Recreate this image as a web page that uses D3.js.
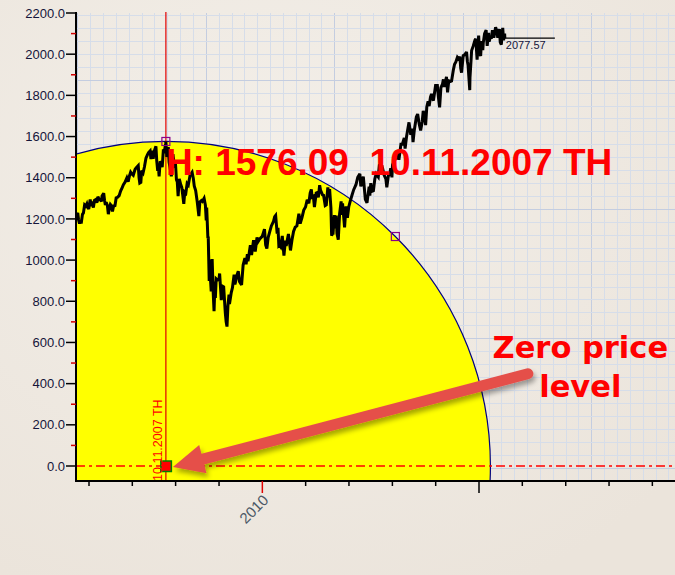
<!DOCTYPE html>
<html><head><meta charset="utf-8">
<script src="https://cdn.jsdelivr.net/npm/d3@7"></script>
<style>
html,body{margin:0;padding:0;background:#efe9e1;}
svg{display:block;}
</style></head>
<body>
<script>
// ---- data ----
const seriesName = "SPX";
const spx = [
["2005-09-20",1221],["2005-09-28",1229],["2005-10-05",1196],["2005-10-13",1177],["2005-10-19",1195],["2005-10-27",1178],
["2005-11-07",1222],["2005-11-15",1229],["2005-11-25",1268],["2005-12-05",1262],["2005-12-14",1273],["2005-12-20",1260],["2005-12-30",1248],
["2006-01-11",1294],["2006-01-20",1262],["2006-01-27",1284],["2006-02-07",1255],["2006-02-16",1290],["2006-02-27",1294],
["2006-03-08",1278],["2006-03-17",1308],["2006-03-28",1293],["2006-04-07",1295],["2006-04-17",1285],["2006-04-21",1311],
["2006-05-05",1325],["2006-05-12",1291],["2006-05-19",1267],["2006-05-26",1281],["2006-06-05",1265],["2006-06-13",1223],
["2006-06-21",1252],["2006-06-30",1270],["2006-07-07",1265],["2006-07-18",1236],["2006-07-27",1263],["2006-08-08",1265],
["2006-08-18",1302],["2006-08-30",1305],["2006-09-12",1313],["2006-09-25",1336],["2006-10-06",1350],["2006-10-18",1366],
["2006-10-31",1378],["2006-11-16",1399],["2006-11-27",1381],["2006-12-08",1409],["2006-12-18",1427],["2006-12-29",1418],
["2007-01-09",1412],["2007-01-24",1440],["2007-02-02",1448],["2007-02-20",1459],["2007-02-27",1399],["2007-03-05",1374],
["2007-03-14",1377],["2007-03-21",1435],["2007-04-02",1424],["2007-04-13",1452],["2007-04-26",1495],["2007-05-09",1512],
["2007-05-18",1522],["2007-05-31",1530],["2007-06-07",1491],["2007-06-15",1532],["2007-06-26",1492],["2007-07-06",1530],
["2007-07-19",1553],["2007-07-26",1482],["2007-08-03",1433],["2007-08-09",1453],["2007-08-15",1406],["2007-08-24",1479],
["2007-08-31",1473],["2007-09-10",1451],["2007-09-19",1529],["2007-09-28",1527],["2007-10-09",1565],["2007-10-11",1576.09],
["2007-10-19",1501],["2007-10-31",1549],["2007-11-07",1475],["2007-11-15",1451],["2007-11-26",1407],["2007-12-10",1515],
["2007-12-20",1460],["2007-12-31",1468],["2008-01-08",1390],["2008-01-15",1380],["2008-01-22",1310],["2008-02-01",1395],
["2008-02-13",1367],["2008-02-22",1353],["2008-03-10",1273],["2008-03-18",1330],["2008-03-27",1325],["2008-04-07",1372],
["2008-04-17",1365],["2008-05-02",1413],["2008-05-19",1427],["2008-05-29",1398],["2008-06-06",1360],["2008-06-18",1338],
["2008-07-01",1284],["2008-07-15",1214],["2008-07-23",1282],["2008-08-06",1289],["2008-08-13",1285],["2008-08-28",1300],
["2008-09-08",1267],["2008-09-15",1193],["2008-09-19",1255],["2008-09-29",1106],["2008-10-02",1114],["2008-10-10",899],
["2008-10-13",1003],["2008-10-22",896],["2008-10-27",848],["2008-11-04",1005],["2008-11-12",852],["2008-11-20",752],
["2008-11-28",896],["2008-12-01",816],["2008-12-08",909],["2008-12-17",904],["2008-12-31",903],["2009-01-06",935],
["2009-01-20",805],["2009-01-28",874],["2009-02-09",870],["2009-02-23",743],["2009-03-02",700],["2009-03-09",677],
["2009-03-17",778],["2009-03-26",832],["2009-03-30",787],["2009-04-14",842],["2009-04-24",866],["2009-05-08",929],
["2009-05-15",882],["2009-06-03",931],["2009-06-12",946],["2009-06-23",895],["2009-07-10",879],["2009-07-23",976],
["2009-08-07",1010],["2009-08-17",980],["2009-08-28",1029],["2009-09-02",994],["2009-09-22",1072],["2009-10-02",1025],
["2009-10-19",1097],["2009-11-02",1042],["2009-11-17",1110],["2009-11-27",1091],["2009-12-10",1103],["2009-12-31",1115],
["2010-01-19",1150],["2010-01-29",1074],["2010-02-08",1056],["2010-02-19",1109],["2010-03-05",1139],["2010-03-18",1166],
["2010-04-05",1188],["2010-04-15",1211],["2010-04-23",1217],["2010-05-06",1128],["2010-05-13",1157],["2010-05-20",1071],
["2010-05-25",1074],["2010-06-04",1065],["2010-06-18",1117],["2010-07-02",1022],["2010-07-14",1095],["2010-07-21",1069],
["2010-08-09",1127],["2010-08-26",1047],["2010-09-08",1099],["2010-09-21",1139],["2010-10-05",1160],["2010-10-19",1166],
["2010-11-05",1225],["2010-11-16",1178],["2010-12-01",1206],["2010-12-16",1243],["2010-12-31",1258],["2011-01-14",1293],
["2011-01-28",1276],["2011-02-08",1325],["2011-02-18",1343],["2011-02-24",1306],["2011-03-07",1310],["2011-03-16",1257],
["2011-03-31",1326],["2011-04-08",1328],["2011-04-18",1305],["2011-04-29",1364],["2011-05-06",1340],["2011-05-23",1317],
["2011-06-01",1315],["2011-06-15",1265],["2011-06-24",1268],["2011-07-07",1353],["2011-07-18",1305],["2011-07-22",1345],
["2011-08-02",1254],["2011-08-08",1119],["2011-08-10",1121],["2011-08-15",1204],["2011-08-19",1124],["2011-08-31",1219],
["2011-09-09",1154],["2011-09-16",1216],["2011-09-22",1129],["2011-10-03",1099],["2011-10-14",1224],["2011-10-27",1285],
["2011-11-01",1219],["2011-11-08",1276],["2011-11-25",1159],["2011-12-07",1261],["2011-12-19",1205],["2011-12-30",1258],
["2012-01-13",1289],["2012-01-27",1316],["2012-02-10",1342],["2012-02-29",1366],["2012-03-15",1402],["2012-04-02",1419],
["2012-04-10",1358],["2012-04-20",1378],["2012-05-01",1405],["2012-05-18",1295],["2012-06-01",1278],["2012-06-19",1357],
["2012-06-25",1313],["2012-07-03",1374],["2012-07-12",1334],["2012-07-25",1337],["2012-08-06",1394],["2012-08-17",1418],
["2012-09-04",1404],["2012-09-14",1465],["2012-09-26",1434],["2012-10-05",1460],["2012-10-23",1413],["2012-11-07",1395],
["2012-11-15",1353],["2012-11-28",1409],["2012-12-10",1418],["2012-12-18",1446],["2012-12-28",1402],["2013-01-02",1462],
["2013-01-18",1485],["2013-02-04",1495],["2013-02-19",1530],["2013-02-25",1487],["2013-03-14",1563],["2013-03-26",1563],
["2013-04-11",1593],["2013-04-18",1541],["2013-04-30",1598],["2013-05-10",1633],["2013-05-21",1669],["2013-06-05",1608],
["2013-06-17",1639],["2013-06-24",1573],["2013-07-05",1632],["2013-07-22",1695],["2013-08-02",1709],["2013-08-15",1661],
["2013-08-27",1630],["2013-09-09",1671],["2013-09-18",1725],["2013-10-01",1695],["2013-10-08",1655],["2013-10-18",1744],
["2013-10-29",1771],["2013-11-07",1748],["2013-11-18",1791],["2013-11-27",1807],["2013-12-05",1785],["2013-12-13",1775],
["2013-12-31",1848],["2014-01-15",1848],["2014-01-24",1790],["2014-02-03",1742],["2014-02-14",1838],["2014-02-27",1854],
["2014-03-07",1878],["2014-03-14",1841],["2014-04-02",1890],["2014-04-11",1815],["2014-04-21",1871],["2014-05-07",1868],
["2014-05-15",1870],["2014-05-30",1924],["2014-06-09",1951],["2014-06-20",1962],["2014-07-03",1985],["2014-07-14",1977],
["2014-07-24",1988],["2014-07-31",1931],["2014-08-07",1910],["2014-08-21",1993],["2014-09-04",1998],["2014-09-18",2011],
["2014-09-25",1966],["2014-10-01",1946],["2014-10-15",1825],["2014-10-17",1886],["2014-10-31",2018],["2014-11-13",2039],
["2014-11-28",2068],["2014-12-05",2075],["2014-12-16",1973],["2014-12-29",2090],["2015-01-06",2002],["2015-01-15",1992],
["2015-01-22",2063],["2015-02-02",2020],["2015-02-06",2055],["2015-02-17",2100],["2015-03-02",2117],["2015-03-11",2040],
["2015-03-23",2104],["2015-03-27",2061],["2015-04-06",2080],["2015-04-17",2081],["2015-04-24",2117],["2015-05-06",2080],
["2015-05-21",2131],["2015-06-01",2111],["2015-06-08",2080],["2015-06-22",2122],["2015-06-29",2058],["2015-07-08",2046],
["2015-07-20",2128],["2015-07-27",2068],["2015-08-05",2100],["2015-08-07",2077.57]
];
const yTickValues = [0,200,400,600,800,1000,1200,1400,1600,1800,2000,2200];
const yMinorValues = [100,300,500,700,900,1100,1300,1500,1700,1900,2100];
const xTickYears = [2006,2007,2008,2009,2010,2011,2012,2013,2014,2015,2016,2017,2018,2019];
const xTickLabels = {2010:"2010"};
const peak = {date:"2007-10-11", value:1576.09};
const peakLabel = "H: 1576.09  10.11.2007 TH";
const peakDateLabel = "10.11.2007 TH";
const lastLabel = "2077.57";
const noteLines = ["Zero price", "level"];
const noteAnchor = {date:"2017-05-04", value:525};
const arrowTail = {date:"2016-02-17", value:448};

// ---- layout ----
const W = 675, H = 575;
const plotLeft = 76, plotTop = 13, plotBottom = 481, plotRight = 675;
const parse = d3.timeParse("%Y-%m-%d");
const data = spx.map(d => ({date: parse(d[0]), value: d[1]}));

const x = d3.scaleTime().domain([new Date(2006,0,1), new Date(2015,0,1)]).range([89, 479]);
const y = d3.scaleLinear().domain([0, 2200]).range([466, 13]);

const svg = d3.select("body").append("svg").attr("width", W).attr("height", H);
const defs = svg.append("defs");

// paper background
const rg = defs.append("radialGradient").attr("id","paper").attr("cx","40%").attr("cy","30%").attr("r","80%");
rg.append("stop").attr("offset","0%").attr("stop-color","#f3efe9");
rg.append("stop").attr("offset","100%").attr("stop-color","#ebe4db");
svg.append("rect").attr("width",W).attr("height",H).attr("fill","url(#paper)");

defs.append("clipPath").attr("id","plotclip").append("rect")
  .attr("x",plotLeft).attr("y",plotTop).attr("width",plotRight-plotLeft).attr("height",plotBottom-plotTop);

// grid (crisp 1px)
const gGrid = svg.append("g");
const gx = d3.range(77.3, plotRight, 12.85).map(v => Math.round(v) + 0.5);
const gy = d3.range(15, plotBottom, 12.93).map(v => Math.round(v) + 0.5);
gGrid.selectAll("line.v").data(gx).join("line")
  .attr("x1",d=>d).attr("x2",d=>d).attr("y1",plotTop).attr("y2",plotBottom)
  .attr("stroke",(d,i)=> i%10===0 ? "#c4cde0" : "#d6dde9").attr("stroke-width",1);
gGrid.selectAll("line.h").data(gy).join("line")
  .attr("y1",d=>d).attr("y2",d=>d).attr("x1",plotLeft).attr("x2",plotRight)
  .attr("stroke",(d,i)=> i%10===5 ? "#c4cde0" : "#d6dde9").attr("stroke-width",1);

// circle (zero price arc)
const px = x(parse(peak.date)), py = y(peak.value), zy = y(0);
const R = zy - py;
svg.append("g").attr("clip-path","url(#plotclip)")
  .append("circle").attr("cx",px).attr("cy",zy).attr("r",R)
  .attr("fill","#ffff00").attr("stroke","#000080").attr("stroke-width",1.2);

// zero level dash-dot
svg.append("line").attr("x1",plotLeft).attr("x2",plotRight).attr("y1",zy).attr("y2",zy)
  .attr("stroke","#ff0000").attr("stroke-width",1.6).attr("stroke-dasharray","9,4,3,4");

// vertical peak line
svg.append("line").attr("x1",px).attr("x2",px).attr("y1",plotTop-1).attr("y2",plotBottom)
  .attr("stroke","#e00000").attr("stroke-width",1.2);

// price line
const line = d3.line().x(d=>x(d.date)).y(d=>y(d.value));
svg.append("path").datum(data).attr("d",line).attr("fill","none")
  .attr("stroke","#000").attr("stroke-width",3).attr("stroke-linejoin","miter").attr("stroke-miterlimit",3)
  .attr("clip-path","url(#plotclip)");

// last value marker
const last = data[data.length-1];
const lx = x(last.date), ly = y(last.value);
svg.append("line").attr("x1",lx).attr("x2",lx+50).attr("y1",ly).attr("y2",ly).attr("stroke","#000").attr("stroke-width",1.2);
svg.append("text").attr("x",lx+1).attr("y",ly+10.5).attr("font-family","Liberation Sans, Arial, sans-serif")
  .attr("font-size",11).attr("fill","#14143a").text(lastLabel);

// small purple squares on the arc
const a45 = Math.PI/4;
const sqPts = [[px, py], [px + R*Math.cos(a45), zy - R*Math.sin(a45)]];
svg.selectAll("rect.sq").data(sqPts).join("rect")
  .attr("x",d=>d[0]-4).attr("y",d=>d[1]-4).attr("width",8).attr("height",8)
  .attr("fill","none").attr("stroke","#8a008a").attr("stroke-width",1.2);

// zero point marker
svg.append("rect").attr("x",px-5).attr("y",zy-5).attr("width",10.5).attr("height",10.5)
  .attr("fill","#ff0000").attr("stroke","#008000").attr("stroke-width",1.5);

// vertical date label
svg.append("text").attr("transform",`translate(${px-4},${plotBottom}) rotate(-90)`)
  .attr("font-family","Liberation Sans, Arial, sans-serif").attr("font-size",12.5).attr("fill","#ff0000")
  .text(peakDateLabel);

// big peak label
svg.append("text").attr("x",px).attr("y",py+34).style("white-space","pre")
  .attr("font-family","Liberation Sans, Arial, sans-serif").attr("font-weight","bold").attr("font-size",37)
  .attr("fill","#ff0000").text(peakLabel);

// arrow
const flt = defs.append("filter").attr("id","shadow").attr("x","-20%").attr("y","-20%").attr("width","140%").attr("height","160%");
flt.append("feDropShadow").attr("dx",2).attr("dy",4).attr("stdDeviation",2.5).attr("flood-color","#000").attr("flood-opacity",0.35);
const tip = [px+7, zy+1];
const tail = [x(parse(arrowTail.date)), y(arrowTail.value)];
const dx = tail[0]-tip[0], dy = tail[1]-tip[1], L = Math.hypot(dx,dy);
const ux = dx/L, uy = dy/L, nx = -uy, ny = ux;
const headLen = 31, headHalf = 14.5;
const base = [tip[0]+ux*headLen, tip[1]+uy*headLen];
const gArrow = svg.append("g").attr("filter","url(#shadow)");
gArrow.append("line").attr("x1",tail[0]).attr("y1",tail[1]).attr("x2",base[0]-ux*4).attr("y2",base[1]-uy*4)
  .attr("stroke","#e5504a").attr("stroke-width",11).attr("stroke-linecap","round");
gArrow.append("path").attr("d", d3.line()([tip, [base[0]+nx*headHalf, base[1]+ny*headHalf], [base[0]-nx*headHalf, base[1]-ny*headHalf]]) + "Z")
  .attr("fill","#e5504a");

// note text
const nX = x(parse(noteAnchor.date)), nY = y(noteAnchor.value);
svg.append("text").attr("x",nX).attr("y",nY).attr("text-anchor","middle")
  .attr("font-family","DejaVu Sans, Verdana, sans-serif").attr("font-weight","bold").attr("font-size",30.5)
  .attr("fill","#ff0000")
  .selectAll("tspan").data(noteLines).join("tspan").attr("x",nX).attr("dy",(d,i)=> i===0?0:39).text(d=>d);

// axes
const axG = svg.append("g");
axG.append("line").attr("x1",plotLeft).attr("x2",plotLeft).attr("y1",plotTop-1).attr("y2",plotBottom+1)
  .attr("stroke","#000").attr("stroke-width",2);
axG.append("line").attr("x1",plotLeft-1).attr("x2",plotRight).attr("y1",plotBottom).attr("y2",plotBottom)
  .attr("stroke","#000").attr("stroke-width",2);
axG.selectAll("line.ymaj").data(yTickValues).join("line")
  .attr("x1",plotLeft-10).attr("x2",plotLeft).attr("y1",d=>y(d)).attr("y2",d=>y(d)).attr("stroke","#000").attr("stroke-width",1.5);
axG.selectAll("line.ymin").data(yMinorValues).join("line")
  .attr("x1",plotLeft-5).attr("x2",plotLeft).attr("y1",d=>y(d)).attr("y2",d=>y(d)).attr("stroke","#d00000").attr("stroke-width",1.5);
axG.selectAll("text.ylab").data(yTickValues).join("text")
  .attr("x",plotLeft-11).attr("y",d=>y(d)).attr("dy","0.36em").attr("text-anchor","end")
  .attr("font-family","Liberation Sans, Arial, sans-serif").attr("font-size",13).attr("fill","#15153a")
  .text(d=>d3.format(".1f")(d));
axG.selectAll("line.xt").data(xTickYears).join("line")
  .attr("x1",d=>x(new Date(d,0,1))).attr("x2",d=>x(new Date(d,0,1)))
  .attr("y1",plotBottom).attr("y2",d=> d%5===0 ? plotBottom+12 : plotBottom+5)
  .attr("stroke",d=> xTickLabels[d] ? "#e00000" : "#000").attr("stroke-width",1.5);
axG.selectAll("text.xl").data(xTickYears.filter(d=>xTickLabels[d])).join("text")
  .attr("transform",d=>`translate(${x(new Date(d,0,1))+7},${plotBottom+20}) rotate(-45)`)
  .attr("text-anchor","end").attr("font-family","Liberation Sans, Arial, sans-serif").attr("font-size",15)
  .attr("fill","#4c5866").text(d=>xTickLabels[d]);
</script>
</body></html>
